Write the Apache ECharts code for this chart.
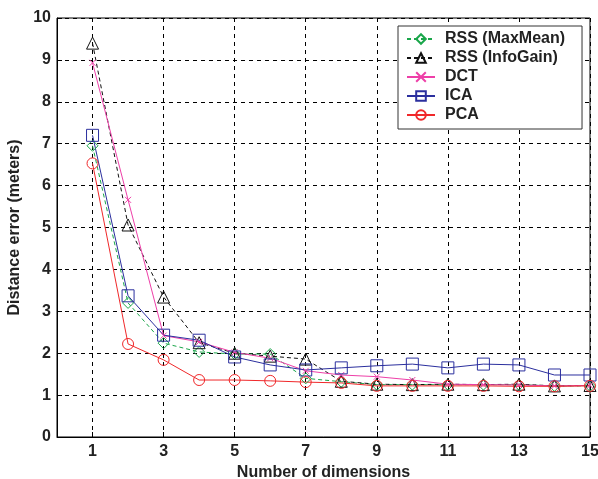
<!DOCTYPE html>
<html>
<head>
<meta charset="utf-8">
<script src="https://cdn.jsdelivr.net/npm/echarts@6/dist/echarts.min.js"></script>
<style>
  html, body { margin: 0; padding: 0; background: #fff; }
  #chart { width: 598px; height: 479px; }
</style>
</head>
<body>
<div id="chart"></div>
<script>
// x categories 0..15 (0 is only the axis origin)
const categories = ["0", "1", "2", "3", "4", "5", "6", "7", "8", "9", "10", "11", "12", "13", "14", "15"];
const dims = [1, 2, 3, 4, 5, 6, 7, 8, 9, 10, 11, 12, 13, 14, 15];

const rssMaxMean = [6.95, 3.2, 2.24, 2.03, 1.98, 1.98, 1.4, 1.32, 1.25, 1.25, 1.25, 1.25, 1.25, 1.22, 1.22];
const rssInfoGain = [9.4, 5.06, 3.34, 2.25, 2.0, 1.93, 1.86, 1.33, 1.26, 1.25, 1.26, 1.25, 1.26, 1.22, 1.23];
const dct = [8.93, 5.66, 2.42, 2.27, 2.02, 1.88, 1.58, 1.48, 1.44, 1.36, 1.26, 1.25, 1.24, 1.22, 1.23];
const ica = [7.2, 3.37, 2.43, 2.31, 1.91, 1.72, 1.6, 1.65, 1.7, 1.74, 1.65, 1.74, 1.72, 1.48, 1.48];
const pca = [6.53, 2.22, 1.84, 1.36, 1.36, 1.34, 1.31, 1.29, 1.22, 1.22, 1.22, 1.22, 1.21, 1.21, 1.22];

const yTicks = [0, 1, 2, 3, 4, 5, 6, 7, 8, 9, 10];

const FONT = "Liberation Sans";
const isOdd = (i) => i % 2 === 1;

function makeSeries(name, values, color, symbol, size, dashed) {
    return {
        name,
        type: "line",
        data: dims.map((d, i) => [String(d), values[i]]),
        symbol,
        symbolSize: size,
        color,
        lineStyle: { color, width: 1, type: dashed ? [4, 3] : "solid" },
        itemStyle: { color: "rgba(0,0,0,0)", borderColor: color, borderWidth: 1 },
        emphasis: { disabled: true },
        animation: false
    };
}

const chart = echarts.init(document.getElementById("chart"));
chart.setOption({
    backgroundColor: "#fff",
    animation: false,
    grid: {
        left: 57, right: 8, top: 18, bottom: 42,
        outerBoundsMode: "none",
        containLabel: false,
        show: true, borderColor: "#000", borderWidth: 1
    },
    legend: {
        orient: "vertical",
        left: 398, top: 26,
        itemWidth: 28, itemHeight: 12,
        itemGap: 3,
        padding: [5, 17, 6, 8],
        backgroundColor: "#fff",
        borderColor: "#333",
        borderWidth: 1,
        textStyle: { fontFamily: FONT, fontWeight: "bold", fontSize: 16, color: "#222", padding: [0, 0, 0, 5] },
        data: ["RSS (MaxMean)", "RSS (InfoGain)", "DCT", "ICA", "PCA"]
    },
    xAxis: {
        type: "category",
        data: categories,
        boundaryGap: false,
        name: "Number of dimensions",
        nameLocation: "middle",
        nameGap: 26,
        nameTextStyle: { fontFamily: FONT, fontWeight: "bold", fontSize: 16, color: "#222" },
        axisLine: { lineStyle: { color: "#000" } },
        axisTick: { inside: true, length: 5, interval: isOdd, lineStyle: { color: "#000" } },
        axisLabel: { interval: isOdd, fontFamily: FONT, fontWeight: "bold", fontSize: 16, color: "#222", margin: 7 },
        splitLine: { show: true, interval: isOdd, lineStyle: { color: "#000", type: [4, 4] } }
    },
    yAxis: {
        type: "value",
        min: yTicks[0],
        max: yTicks[yTicks.length - 1],
        interval: 1,
        name: "Distance error (meters)",
        nameLocation: "middle",
        nameGap: 31,
        nameTextStyle: { fontFamily: FONT, fontWeight: "bold", fontSize: 16, color: "#222" },
        axisLine: { show: true, lineStyle: { color: "#000" } },
        axisTick: { show: true, inside: true, length: 5, lineStyle: { color: "#000" } },
        axisLabel: { fontFamily: FONT, fontWeight: "bold", fontSize: 16, color: "#222", margin: 6 },
        splitLine: { show: true, lineStyle: { color: "#000", type: [4, 4] } }
    },
    series: [
        makeSeries("RSS (MaxMean)", rssMaxMean, "#1aa64a", "diamond", 11, true),
        makeSeries("RSS (InfoGain)", rssInfoGain, "#111", "triangle", 12, true),
        makeSeries("DCT", dct, "#ee3fa8", "path://M0,0L10,10M10,0L0,10", 6, false),
        makeSeries("ICA", ica, "#2b2f9e", "rect", 12, false),
        makeSeries("PCA", pca, "#f0282a", "circle", 11, false)
    ]
});
</script>
</body>
</html>
